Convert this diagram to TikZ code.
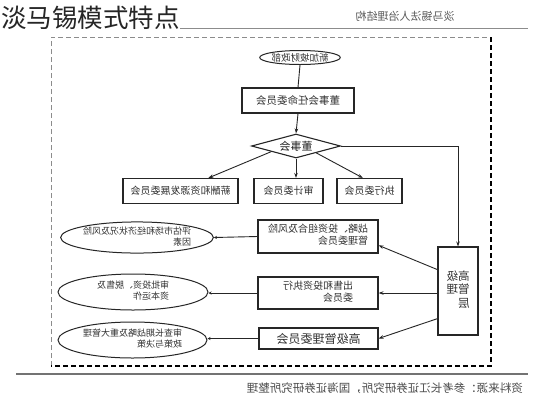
\documentclass[tikz,border=0pt]{standalone}
\usepackage{fontspec}
\usepackage{graphicx}
\setmainfont{Noto Sans CJK SC}
\usetikzlibrary{shapes.geometric,arrows.meta,calc}
\newcommand{\mirtxt}[1]{\reflectbox{#1}}
\newcommand{\mirtwo}[2]{\reflectbox{\begin{tabular}{@{}l@{}}#1\\#2\end{tabular}}}
\begin{document}
\begin{tikzpicture}[x=1pt,y=-1pt,
  box/.style={draw=black!85, line width=1.1pt, rectangle, inner sep=0pt, font=\fontsize{10}{12}\selectfont, text=black!80},
  oval/.style={draw=black!85, line width=1pt, ellipse, inner sep=0pt, font=\fontsize{9}{11}\selectfont, text=black!80},
  conn/.style={draw=black!85, line width=0.9pt},
  arr/.style={conn, -{Stealth[length=5pt,width=3.5pt]}},
  tiparr/.style={conn, -{Stealth[length=3pt,width=3pt]}},
]
\useasboundingbox (0,0) rectangle (546,400);
\fill[white] (0,0) rectangle (546,400);

% title and header
\node[anchor=west, font=\fontsize{25.5}{27}\selectfont, text=black!85, inner sep=0pt] (title) at (1,18) {淡马锡模式特点};
\draw[black!45, line width=1pt] (title.east |- 0,28.5) -- (528,28.5);
\node[font=\fontsize{11}{12}\selectfont, text=black!65, inner sep=0pt] (hdr) at (405,16) {\mirtxt{淡马锡法人治理结构}};

% outer dashed frame
\coordinate (f1) at (51,37);
\coordinate (f2) at (491,37);
\coordinate (f3) at (491,366);
\coordinate (f4) at (51,366);
\draw[black!45, line width=0.9pt, dash pattern=on 5pt off 3pt] (f4) -- (f1) -- (f2);
\draw[black, line width=1.8pt, dash pattern=on 5pt off 3pt] (f2) -- (f3) -- (f4);

% bottom rule and source
\draw[black!55, line width=1.1pt] (16,374) -- (528,374);
\node[anchor=east, font=\fontsize{11.5}{12}\selectfont, text=black!70, inner sep=0pt] (src) at (523,388) {\mirtxt{资料来源：参考长江证券研究所，国海证券研究所整理}};

% top chain
\node[oval, minimum width=80pt, minimum height=14pt, font=\fontsize{9.5}{10}\selectfont] (mof) at (300,57.5) {\mirtxt{新加坡财政部}};
\node[box, minimum width=112pt, minimum height=25pt, font=\fontsize{10.5}{12}\selectfont] (nom) at (298,100.5) {\mirtxt{董事会任命委员会}};
\node[diamond, draw=black!85, line width=1.1pt, inner sep=0pt, minimum width=89pt, minimum height=24pt, aspect=3.7, font=\fontsize{11}{12}\selectfont, text=black!85] (board) at (296,146) {\mirtxt{董事会}};

% board committees
\node[box, minimum width=115pt, minimum height=25pt] (c1) at (180.5,191) {\mirtxt{薪酬和资源发展委员会}};
\node[box, minimum width=69pt, minimum height=25pt] (c2) at (288.5,191) {\mirtxt{审计委员会}};
\node[box, minimum width=65pt, minimum height=25pt] (c3) at (369.5,191) {\mirtxt{执行委员会}};

% management
\node[box, minimum width=40pt, minimum height=88pt, font=\fontsize{11.5}{13.5}\selectfont] (mgmt) at (458,291) {\mirtxt{\begin{tabular}{@{}l@{}}高级\\管理\\层\end{tabular}}};
\node[box, minimum width=120pt, minimum height=33pt] (bA) at (318,236.5) {\mirtwo{战略、投资组合及风险}{管理委员会}};
\node[box, minimum width=120pt, minimum height=32pt] (bB) at (318,293) {\mirtwo{出售和投资执行}{委员会}};
\node[box, minimum width=119pt, minimum height=21pt, font=\fontsize{12}{14}\selectfont] (bC) at (318.5,338.5) {\mirtxt{高级管理委员会}};

% ellipses
\node[oval, minimum width=144pt, minimum height=31pt] (eA) at (137,237.5) {\mirtwo{评估市场和经济状况及风险}{因素}};
\node[oval, minimum width=150pt, minimum height=36pt] (eB) at (133,292) {\mirtwo{审批投资、脱售及}{资本运作}};
\node[oval, minimum width=149pt, minimum height=36pt] (eC) at (132.5,340) {\mirtwo{审查长期战略及重大管理}{政策与决策}};

% connectors
\draw[conn] (mof.south) -- (nom.north);
\draw[arr] (nom.south) -- (board.north);
\draw[arr] ($(board.west)!0.45!(board.south)$) -- ($(c1.north west)!0.74!(c1.north east)$);
\draw[arr] (board.south) -- (board.south |- c2.north);
\draw[arr] ($(board.east)!0.55!(board.south)$) -- ($(c3.north west)!0.40!(c3.north east)$);
\draw[arr] (board.east) -| (mgmt.north);

\draw[arr] ($(mgmt.north west)!0.26!(mgmt.south west)$) -- ($(bA.north east)!0.76!(bA.south east)$);
\draw[arr] (mgmt.west |- bB.east) -- (bB.east);
\draw[arr] ($(mgmt.north west)!0.81!(mgmt.south west)$) -- (bC.east);

\draw[tiparr] (bA.west) -- (eA.east);
\draw[tiparr] (bB.west) -- (bB.west -| eB.east);
\draw[tiparr] (bC.west) -- (bC.west -| eC.east);
\end{tikzpicture}
\end{document}
